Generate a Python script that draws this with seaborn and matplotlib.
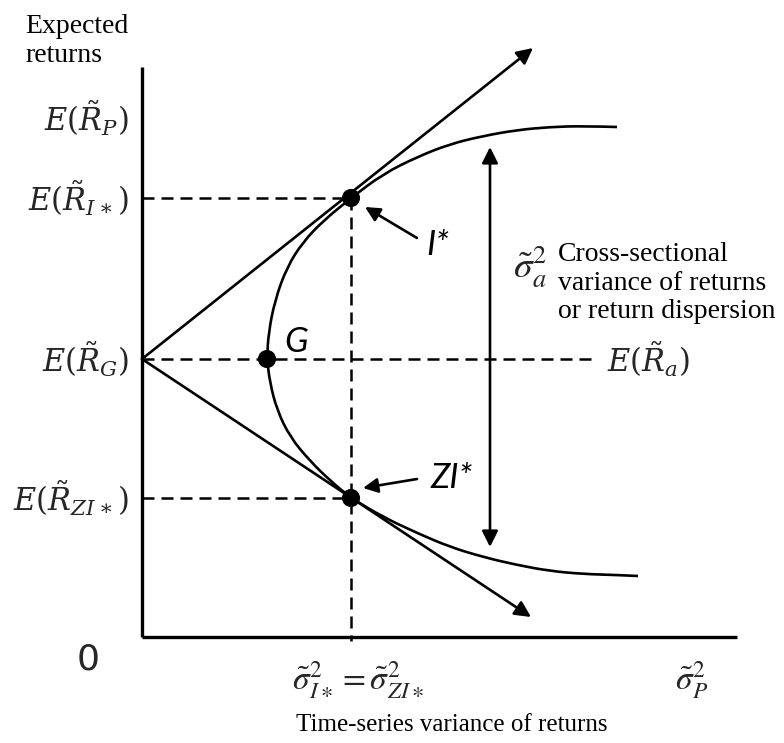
"""Mean-variance frontier diagram: time-series vs cross-sectional variance"""
import matplotlib
matplotlib.use("Agg")
import matplotlib.pyplot as plt
from matplotlib.path import Path
from matplotlib.patches import PathPatch
import seaborn as sns

sns.set_theme(style="white")
plt.rcParams.update({"mathtext.fontset": "stix"})

# frontier (variance, expected return), top end -> G -> bottom end
frontier_var = [4.75, 4.41, 4.08, 3.75, 3.41, 3.08, 2.75, 2.41, 2.09, 1.81, 1.61, 1.45, 1.33, 1.265,
                1.25, 1.28, 1.35, 1.48, 1.68, 1.88, 2.09, 2.41, 2.75, 3.08, 3.41, 3.75, 4.08, 4.41,
                4.75, 4.96]
frontier_ret = [5.10, 5.11, 5.10, 5.07, 5.01, 4.93, 4.80, 4.63, 4.39, 4.16, 3.95, 3.70, 3.37, 3.04,
                2.78, 2.54, 2.27, 2.00, 1.76, 1.565, 1.39, 1.20, 1.04, 0.90, 0.80, 0.72, 0.66, 0.63,
                0.62, 0.61]

# named portfolios
pt_names = ["G", "I*", "ZI*"]
pt_var = [1.25, 2.09, 2.09]
pt_ret = [2.78, 4.39, 1.39]

# tangent line ends (arrow tips)
tangent_tip_var = [3.91, 3.89]
tangent_tip_ret = [5.89, 0.20]

# expected return levels on the y axis
level_labels = [r"$E(\tilde{R}_P)$", r"$E(\tilde{R}_{I\ast})$", r"$E(\tilde{R}_G)$", r"$E(\tilde{R}_{ZI\ast})$"]
level_values = [5.19, 4.39, 2.78, 1.39]

# cross-sectional dispersion arrow
disp_var = 3.48
disp_top, disp_bottom = 4.90, 0.90

x_max, y_max = 5.95, 5.70

fig = plt.figure(figsize=(7.84, 7.43), dpi=100)
ax = fig.add_axes([0, 0, 1, 1])
ax.set_xlim(-1.42, 6.42)
ax.set_ylim(-1.06, 6.37)
ax.axis("off")

# axes
ax.plot([0, 0], [0, y_max], color="black", lw=2.4, solid_capstyle="butt")
ax.plot([0, x_max], [0, 0], color="black", lw=2.4, solid_capstyle="butt")

# dashed guides
dash = dict(color="black", lw=1.8, ls=(0, (4.8, 2.8)))
ax.plot([0, pt_var[1]], [pt_ret[1], pt_ret[1]], **dash)
ax.plot([0, pt_var[2]], [pt_ret[2], pt_ret[2]], **dash)
ax.plot([0, 4.55], [pt_ret[0], pt_ret[0]], **dash)
ax.plot([pt_var[1], pt_var[1]], [pt_ret[1], -0.04], **dash)

# frontier: smooth quadratic path through the read points
pts = list(zip(frontier_var, frontier_ret))
verts = [pts[0]]
codes = [Path.MOVETO]
for i in range(1, len(pts) - 1):
    nxt = pts[i + 1] if i == len(pts) - 2 else ((pts[i][0] + pts[i + 1][0]) / 2, (pts[i][1] + pts[i + 1][1]) / 2)
    verts += [pts[i], nxt]
    codes += [Path.CURVE3, Path.CURVE3]
ax.add_patch(PathPatch(Path(verts, codes), facecolor="none", edgecolor="black", lw=1.9))

# tangent lines from E(R_G)
for tx, ty in zip(tangent_tip_var, tangent_tip_ret):
    ax.annotate("", xy=(tx, ty), xytext=(0, pt_ret[0]),
                arrowprops=dict(arrowstyle="-|>", color="black", lw=1.9,
                                mutation_scale=24, shrinkA=0, shrinkB=0))

# dispersion double arrow
ax.annotate("", xy=(disp_var, disp_top), xytext=(disp_var, disp_bottom),
            arrowprops=dict(arrowstyle="<|-|>", color="black", lw=1.9,
                            mutation_scale=24, shrinkA=0, shrinkB=0))

# portfolios
sns.scatterplot(x=pt_var, y=pt_ret, s=170, color="black", edgecolor="none", ax=ax, zorder=5)

# point labels and pointer arrows
lab = dict(family="Lato", style="italic", fontsize=25, color="black", ha="center", va="center")
ax.text(1.54, 2.95, pt_names[0], **lab)
ax.text(2.96, 3.92, pt_names[1], **lab)
ax.text(3.10, 1.59, pt_names[2], **lab)
ax.annotate("", xy=(2.23, 4.30), xytext=(2.75, 3.99),
            arrowprops=dict(arrowstyle="-|>", color="black", lw=1.9,
                            mutation_scale=22, shrinkA=0, shrinkB=0))
ax.annotate("", xy=(2.21, 1.49), xytext=(2.75, 1.58),
            arrowprops=dict(arrowstyle="-|>", color="black", lw=1.9,
                            mutation_scale=22, shrinkA=0, shrinkB=0))

# y-axis level labels
for lbl, val in zip(level_labels, level_values):
    ax.text(-0.13, val, lbl, fontsize=22, ha="right", va="center", math_fontfamily="dejavuserif")
ax.text(4.65, pt_ret[0], r"$E(\tilde{R}_a)$", fontsize=22, ha="left", va="center",
        math_fontfamily="dejavuserif")

# axis titles and other text
serif = dict(family="Liberation Serif", color="black")
ax.text(-1.17, 5.96, "Expected\nreturns", fontsize=20, ha="left", va="center", linespacing=1.2, **serif)
ax.text(-0.54, -0.23, "0", family="DejaVu Sans", fontsize=26, ha="center", va="center")
ax.text(2.16, -0.43, r"$\tilde{\sigma}^2_{I\ast}=\tilde{\sigma}^2_{ZI\ast}$", fontsize=24, ha="center", va="center")
ax.text(5.50, -0.43, r"$\tilde{\sigma}^2_P$", fontsize=24, ha="center", va="center")
ax.text(3.10, -0.88, "Time-series variance of returns", fontsize=18, ha="center", va="center", **serif)
ax.text(3.88, 3.70, r"$\tilde{\sigma}^2_a$", fontsize=27, ha="center", va="center")
ax.text(4.16, 3.54, "Cross-sectional\nvariance of returns\nor return dispersion", fontsize=20,
        ha="left", va="center", linespacing=1.2, **serif)

fig.savefig("out.png", dpi=100, facecolor="white")
plt.close(fig)
